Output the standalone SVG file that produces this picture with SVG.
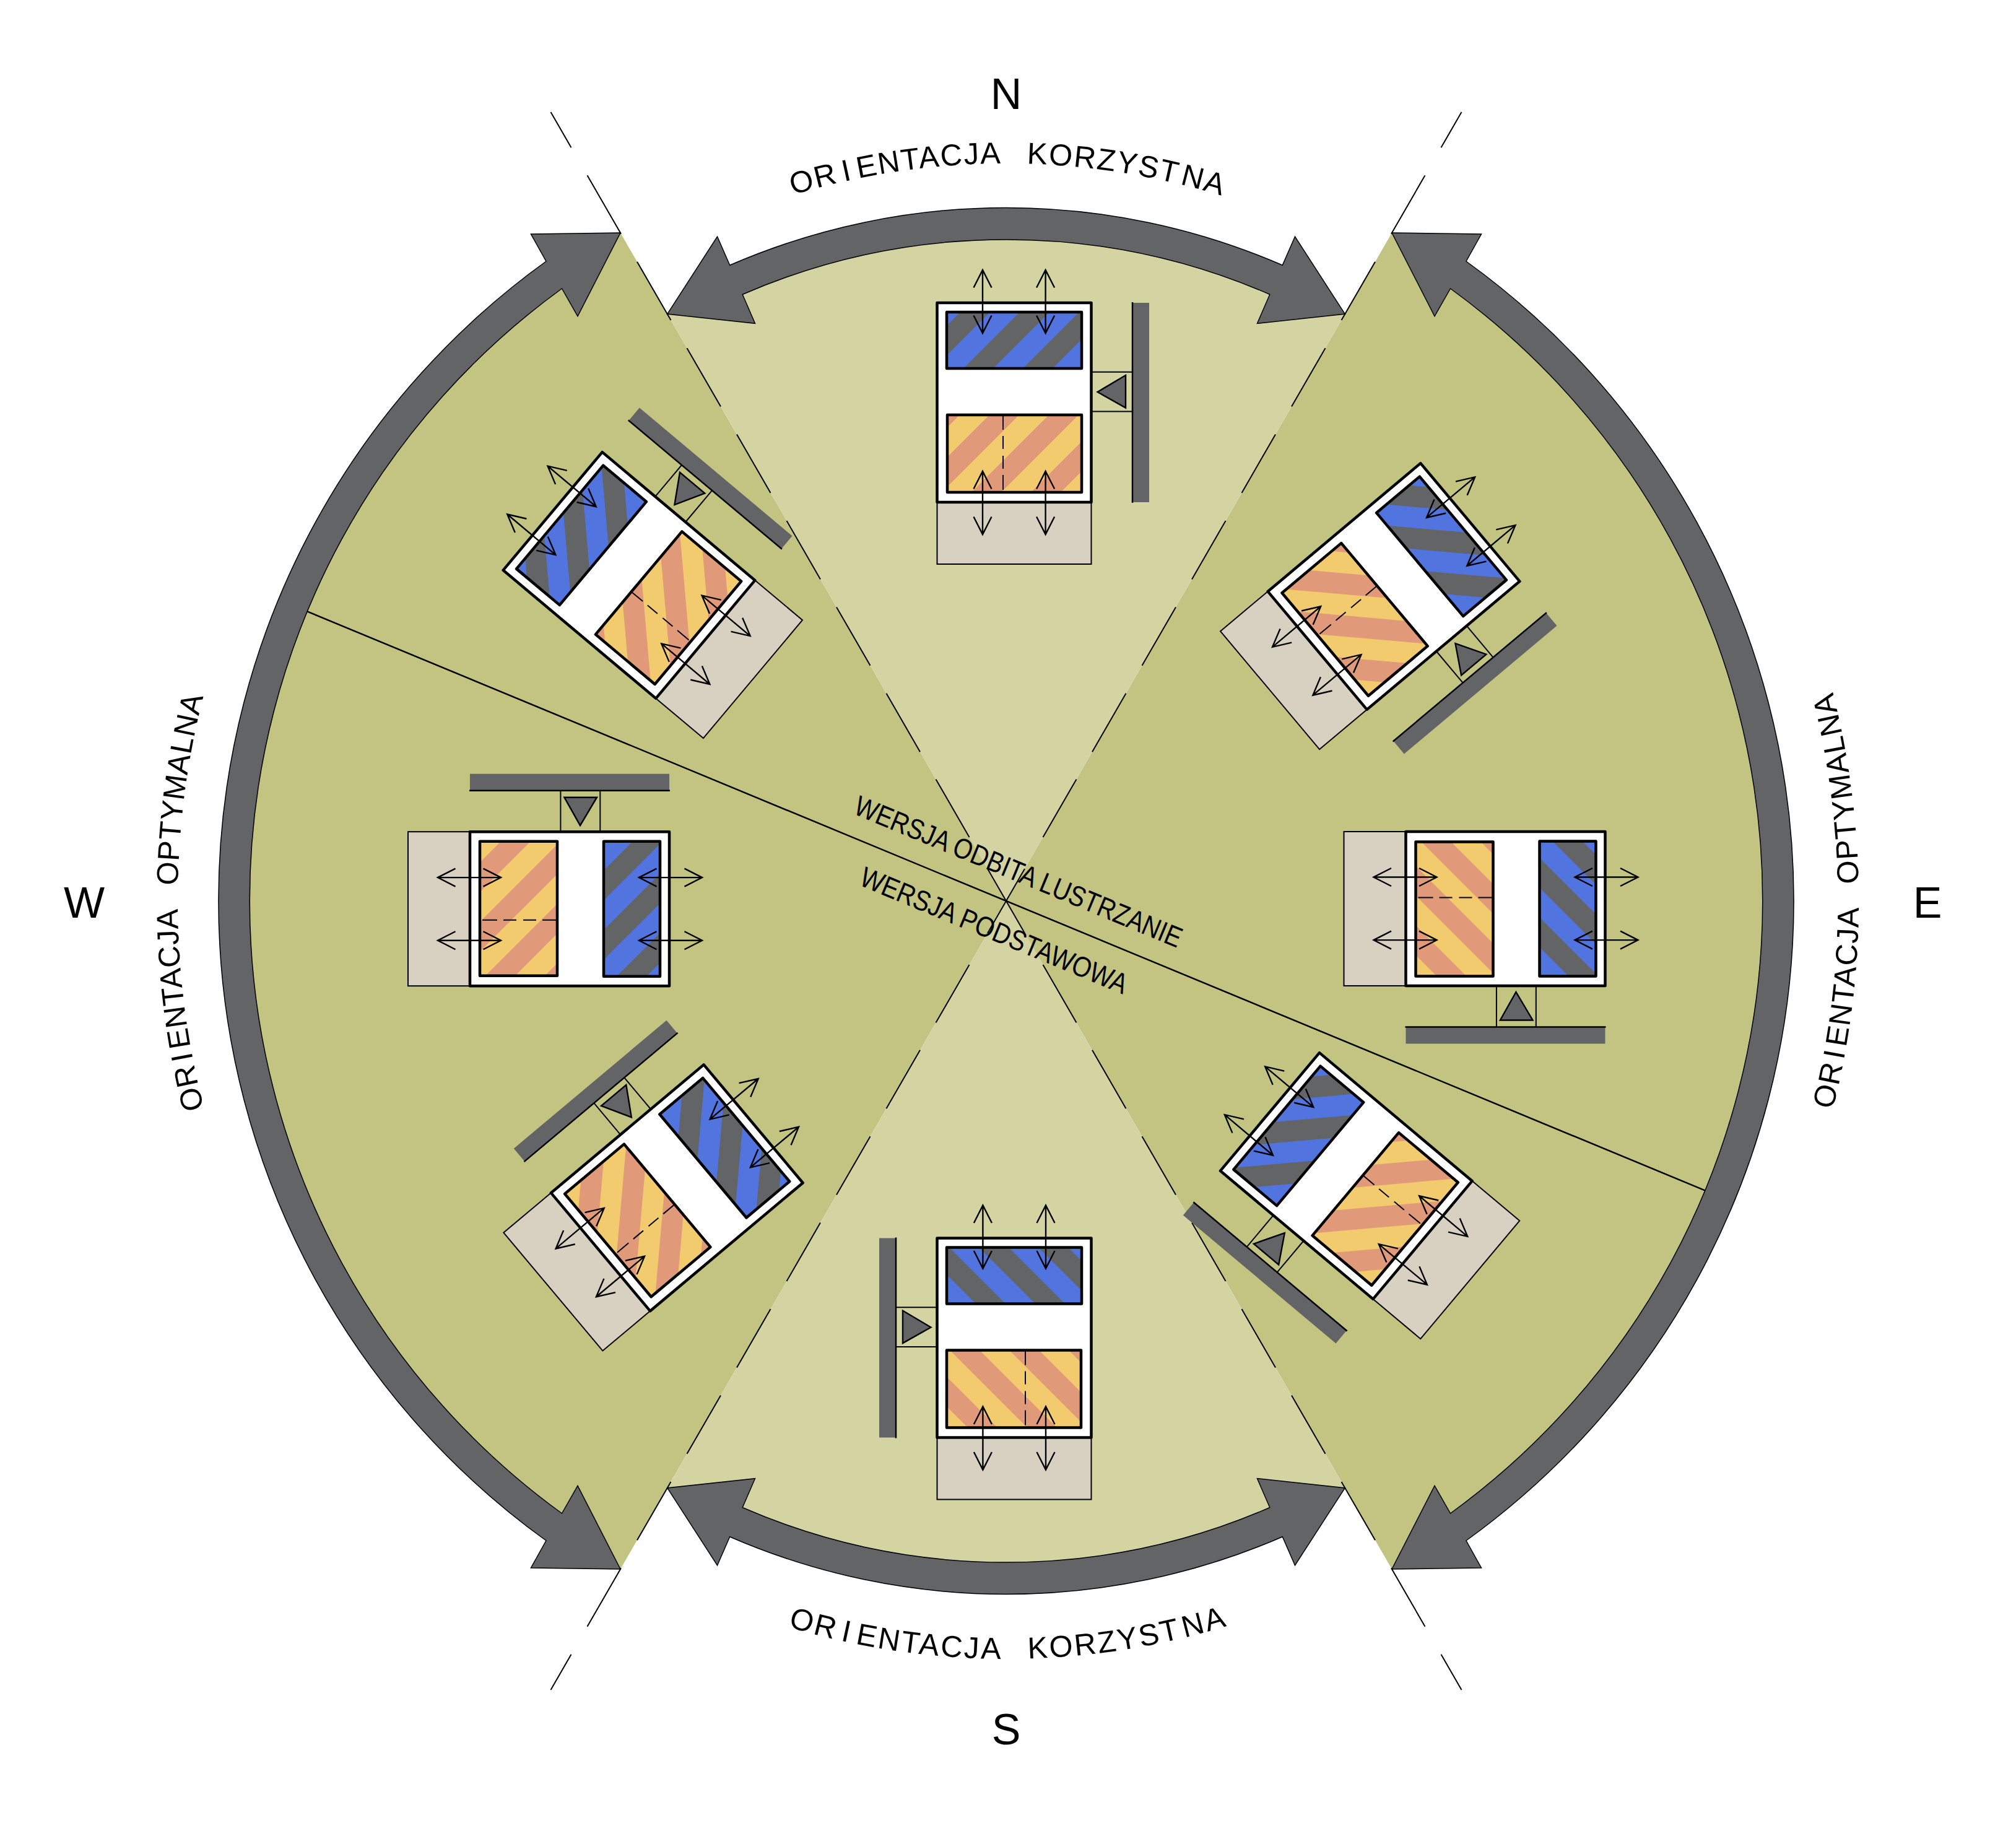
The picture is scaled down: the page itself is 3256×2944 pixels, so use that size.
<svg xmlns="http://www.w3.org/2000/svg" xmlns:xlink="http://www.w3.org/1999/xlink" width="3256" height="2944" viewBox="0 0 3256 2944">
<style>
text{font-family:"Liberation Sans",Arial,sans-serif;fill:#000}
.big{font-size:70px;text-anchor:middle}
.ring{font-size:49px}
.lab{font-size:46px}
.ln{fill:none;stroke:#000;stroke-width:2}
.arw{fill:none;stroke:#000;stroke-width:2.4}
.ds{fill:#636466}
.ar{fill:#636466;stroke:#000;stroke-width:1.5;stroke-linejoin:miter}
.frame{fill:#fff;stroke:#000;stroke-width:4.5;stroke-linejoin:round}
.pane{fill:none;stroke:#000;stroke-width:4.5;stroke-linejoin:round}
.tw{fill:none;stroke:#000;stroke-width:2.4;stroke-linejoin:miter}
</style>
<defs>
<clipPath id="cb"><rect x="-109" y="-146" width="218" height="91"/></clipPath>
<clipPath id="co"><rect x="-108" y="20" width="217" height="125"/></clipPath>
<path id="ray" class="ln" d="M0,0V-60M0,-119V-227M0,-278V-387M0,-439V-548M0,-600V-709M0,-761V-870M0,-922V-1031M0,-1083V-1192M0,-1244V-1353M0,-1405V-1471"/>
<path id="nsarrow" class="ar" d="M1077.75,507.1L1158.5,382L1178.7,428.3A1119.5,1119.5 0 0 1 2071.3,428.3L2091.5,382L2172.25,507.1L2030.5,522.3L2050.8,475.5A1068,1068 0 0 0 1199.2,475.5L1219.5,522.3Z"/>
<path id="earrow" class="ar" d="M2248,376L2392.5,378L2368,422A1273,1273 0 0 1 2368,2488L2392.5,2532L2248,2534L2317,2399.3L2342.5,2444A1222,1222 0 0 0 2342.5,466L2317,510.7Z"/>
<path id="esector" fill="#c3c481" d="M1625,1455L2248,376L2290.5,430.2A1222,1222 0 0 1 2290.5,2479.8L2248,2534Z"/>
<path id="nsector" fill="#d4d4a3" d="M1625,1455L1077.75,507.1L1140.1,503.4A1068,1068 0 0 1 2109.9,503.4L2172.25,507.1Z"/>
<path id="topring" d="M859.4,542.7A1191,1191 0 0 1 2390.6,542.7"/>
<path id="botring" d="M838.2,2392.6A1224,1224 0 0 0 2411.8,2392.6"/>
<path id="ering" d="M2817.5,2143.5A1377,1377 0 0 0 2817.5,766.5"/>
<path id="wring" d="M466.3,2124A1338,1338 0 0 1 466.3,786"/>
<g id="module">
<rect x="191" y="-161" width="27" height="322" class="ds"/>
<path class="ln" d="M191,-162V162" style="stroke-width:2.5"/>
<path class="ln" d="M124.5,-49.3H191M124.5,14.6H191"/>
<path class="ds tw" style="fill:#636466" d="M134.5,-17L180,-44V8.6Z"/>
<rect x="-124.5" y="161" width="249" height="100" fill="#d8d0c0" stroke="#000" stroke-width="2"/>
<rect x="-124.5" y="-161" width="249" height="322" class="frame"/>
<rect x="-109" y="-146" width="218" height="91" fill="#5274de"/>
<path clip-path="url(#cb)" class="ds" d="M-200,-33L200,-433L200,-385L-200,15ZM-200,63L200,-337L200,-289L-200,111ZM-200,159L200,-241L200,-193L-200,207Z"/>
<rect x="-109" y="-146" width="218" height="91" class="pane"/>
<rect x="-108" y="20" width="217" height="125" fill="#f3cb6f"/>
<path clip-path="url(#co)" fill="#e09a7a" d="M-200,84L200,-316L200,-268L-200,132ZM-200,180L200,-220L200,-172L-200,228ZM-200,276L200,-124L200,-76L-200,324ZM-200,372L200,-28L200,20L-200,420Z"/>
<rect x="-108" y="20" width="217" height="125" class="pane"/>
<path class="ln" d="M-18,20V145" stroke-dasharray="24 10 21 11 21 10 24"/>
<path class="arw" d="M-51,-214V-112M-65.5,-185.5L-51,-214L-36.5,-185.5M-65.5,-140.5L-51,-112L-36.5,-140.5M50.6,-214V-112M36.1,-185.5L50.6,-214L65.1,-185.5M36.1,-140.5L50.6,-112L65.1,-140.5M-51,111V213M-65.5,139.5L-51,111L-36.5,139.5M-65.5,184.5L-51,213L-36.5,184.5M50.6,111V213M36.1,139.5L50.6,111L65.1,139.5M36.1,184.5L50.6,213L65.1,184.5"/>
</g>
</defs>
<rect width="3256" height="2944" fill="#fff"/>
<g id="sectors">
<use href="#esector"/>
<use href="#esector" transform="matrix(-1 0 0 1 3250 0)"/>
<use href="#nsector"/>
<use href="#nsector" transform="matrix(1 0 0 -1 0 2910)"/>
</g>
<g id="connectors">
<use href="#ray" transform="translate(1625,1455) rotate(30)"/>
<use href="#ray" transform="translate(1625,1455) rotate(-30)"/>
<use href="#ray" transform="translate(1625,1455) rotate(150)"/>
<use href="#ray" transform="translate(1625,1455) rotate(-150)"/>
<path class="ln" style="stroke-width:2.5" d="M496,987.4L2754,1922.6"/>
<use href="#nsarrow"/>
<use href="#nsarrow" transform="matrix(1 0 0 -1 0 2910)"/>
<use href="#earrow"/>
<use href="#earrow" transform="matrix(-1 0 0 1 3250 0)"/>
</g>
<g id="node-n"><use href="#module" transform="translate(1638,650)"/></g>
<g id="node-s"><use href="#module" transform="translate(1638,2160.5) scale(-1,1)"/></g>
<g id="node-e"><use href="#module" transform="translate(2431.5,1467.5) rotate(90)"/></g>
<g id="node-w"><use href="#module" transform="translate(920,1467.7) rotate(90) scale(-1,1)"/></g>
<g id="node-nw"><use href="#module" transform="translate(1016,929) rotate(-50)"/></g>
<g id="node-ne"><use href="#module" transform="translate(2251,947) rotate(50)"/></g>
<g id="node-se"><use href="#module" transform="translate(2174.3,1899) rotate(-50) scale(-1,1)"/></g>
<g id="node-sw"><use href="#module" transform="translate(1093.3,1918.3) rotate(50) scale(-1,1)"/></g>
<g id="labels">
<text class="big" x="1625" y="176">N</text>
<text class="big" x="1625" y="2817">S</text>
<text class="big" x="3113" y="1482">E</text>
<text class="big" x="136" y="1482">W</text>
<text class="ring" letter-spacing="2"><textPath href="#topring" startOffset="482">OR<tspan dx="8">I</tspan><tspan dx="8">ENTACJA</tspan><tspan dx="27"> KORZYST</tspan><tspan dx="4">NA</tspan></textPath></text>
<text class="ring" letter-spacing="2.9"><textPath href="#botring" startOffset="497">OR<tspan dx="8">I</tspan><tspan dx="8">ENTACJA</tspan><tspan dx="27"> KORZYST</tspan><tspan dx="4">NA</tspan></textPath></text>
<text class="ring" letter-spacing="1.3"><textPath href="#ering" startOffset="380">OR<tspan dx="6">I</tspan><tspan dx="6">ENTACJA</tspan><tspan dx="25"> OPTYMALNA</tspan></textPath></text>
<text class="ring" letter-spacing="0.8"><textPath href="#wring" startOffset="362">OR<tspan dx="6">I</tspan><tspan dx="6">ENTACJA</tspan><tspan dx="25"> OPTYMALNA</tspan></textPath></text>
<text class="lab" transform="translate(1376.5,1313.6) rotate(22.5)" textLength="568" lengthAdjust="spacingAndGlyphs">WERSJA ODBITA LUSTRZANIE</text>
<text class="lab" transform="translate(1385.7,1428.6) rotate(22.5)" textLength="463" lengthAdjust="spacingAndGlyphs">WERSJA PODSTAWOWA</text>
</g>
</svg>
